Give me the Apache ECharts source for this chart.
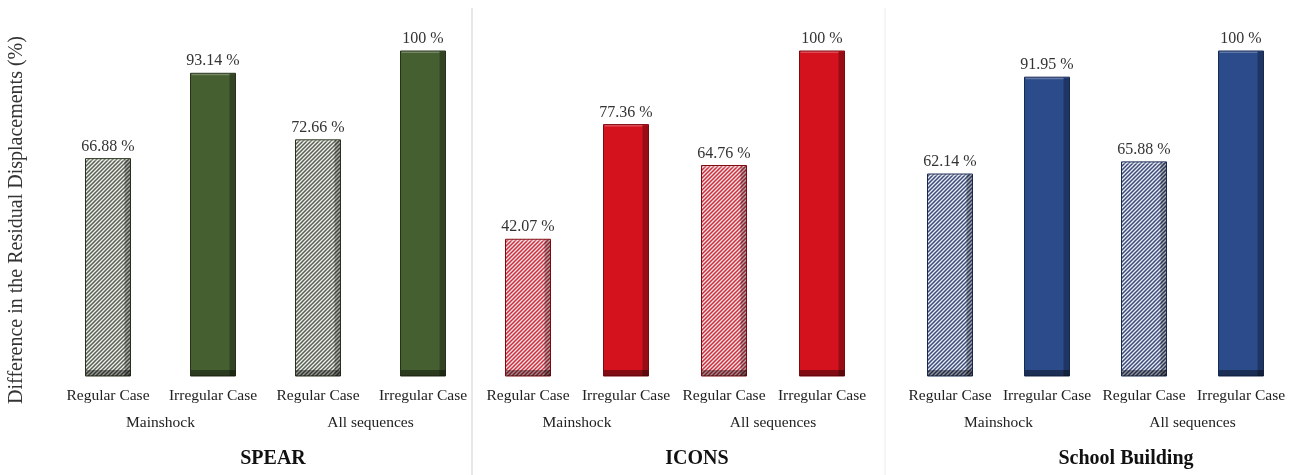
<!DOCTYPE html>
<html>
<head>
<meta charset="utf-8">
<script src="https://cdn.jsdelivr.net/npm/echarts@6/dist/echarts.min.js"></script>
<style>
  html, body { margin: 0; padding: 0; background: #ffffff; }
  #chart { width: 1298px; height: 475px; }
</style>
</head>
<body>
<div id="chart"></div>
<script>
// Category and group labels shared by every panel
const caseLabels = ['Regular Case', 'Irregular Case', 'Regular Case', 'Irregular Case'];
const groupLabels = ['Mainshock', 'All sequences'];
const buildings = ['SPEAR', 'ICONS', 'School Building'];
const yTitle = 'Difference in the Residual Displacements (%)';

// Difference in residual displacements (%) per building
const spearValues = [66.88, 93.14, 72.66, 100];
const iconsValues = [42.07, 77.36, 64.76, 100];
const schoolValues = [62.14, 91.95, 65.88, 100];

const FONT = "'Liberation Serif', 'Times New Roman', serif";

// Diagonal hatch used for the regular-case bars
function hatch(bg, line) {
  const p = 4;
  const c = document.createElement('canvas');
  c.width = p; c.height = p;
  const g = c.getContext('2d');
  g.fillStyle = bg;
  g.fillRect(0, 0, p, p);
  g.strokeStyle = line;
  g.lineWidth = 1.5;
  g.beginPath();
  g.moveTo(-1, p + 1); g.lineTo(p + 1, -1);
  g.moveTo(-1, 1); g.lineTo(1, -1);
  g.moveTo(p - 1, p + 1); g.lineTo(p + 1, p - 1);
  g.stroke();
  return { image: c, repeat: 'repeat' };
}

const panels = [
  { name: buildings[0], values: spearValues, left: 55.5, width: 420, titleX: 268,
    solid: '#465f31', edge: '#26331a', pattern: hatch('#eef1ea', '#5a5f55') },
  { name: buildings[1], values: iconsValues, left: 479, width: 392, titleX: 692,
    solid: '#d3121e', edge: '#7e0a10', pattern: hatch('#fbe0e4', '#c8303f') },
  { name: buildings[2], values: schoolValues, left: 901.5, width: 388, titleX: 1121,
    solid: '#2b4b8b', edge: '#172a52', pattern: hatch('#e8ecf4', '#3d4b78') }
];

// 3D-looking bar: front face, shaded right side, dark base slab and value label
function makeRender(p) {
  return function (params, api) {
    const idx = api.value(0);
    const v = api.value(1);
    const top = api.coord([idx, v]);
    const base = api.coord([idx, 0]);
    const bw = 45;
    const x = top[0] - bw / 2;
    const y = top[1];
    const h = base[1] - top[1];
    const irregular = idx % 2 === 1;
    return {
      type: 'group',
      children: [
        { type: 'rect', shape: { x: x, y: y, width: bw, height: h },
          style: { fill: irregular ? p.solid : p.pattern, stroke: p.edge, lineWidth: 1 } },
        { type: 'rect', shape: { x: x + bw - 6, y: y + 1, width: 5.5, height: h - 1 },
          style: { fill: 'rgba(0,0,0,0.28)' } },
        { type: 'rect', shape: { x: x + 1, y: y + 0.5, width: bw - 7, height: 1.5 },
          style: { fill: 'rgba(255,255,255,0.25)' } },
        { type: 'rect', shape: { x: x + 0.5, y: base[1] - 6, width: bw - 0.5, height: 6 },
          style: { fill: 'rgba(0,0,0,0.38)' } },
        { type: 'text',
          style: { text: v + ' %', x: top[0], y: y - 4, align: 'center', verticalAlign: 'bottom',
                   fontFamily: FONT, fontSize: 16, fill: '#333333' } }
      ]
    };
  };
}

const grids = [], xAxes = [], yAxes = [], series = [], titles = [];
panels.forEach(function (p, i) {
  grids.push({ left: p.left, width: p.width, top: 51, bottom: 475 - 376 });
  xAxes.push({
    type: 'category', gridIndex: i, data: caseLabels, position: 'bottom',
    axisLine: { show: false }, axisTick: { show: false },
    axisLabel: { margin: 12, fontFamily: FONT, fontSize: 15.5, color: '#222222', interval: 0 }
  });
  xAxes.push({
    type: 'category', gridIndex: i, data: groupLabels, position: 'bottom', offset: 27,
    axisLine: { show: false }, axisTick: { show: false },
    axisLabel: { margin: 12, fontFamily: FONT, fontSize: 15.5, color: '#222222', interval: 0 }
  });
  yAxes.push({
    type: 'value', gridIndex: i, min: 0, max: 100, show: false
  });
  series.push({
    type: 'custom', xAxisIndex: i * 2, yAxisIndex: i,
    data: p.values.map(function (v, k) { return [k, v]; }),
    renderItem: makeRender(p)
  });
  titles.push({
    text: p.name, left: p.titleX, top: 444, textAlign: 'center',
    textStyle: { fontFamily: FONT, fontSize: 20, fontWeight: 'bold', color: '#111111' }
  });
});

const chart = echarts.init(document.getElementById('chart'), null, { renderer: 'canvas' });
chart.setOption({
  animation: false,
  backgroundColor: '#ffffff',
  title: titles,
  grid: grids,
  xAxis: xAxes,
  yAxis: yAxes,
  series: series,
  graphic: [
    { type: 'text', x: 17, y: 220, rotation: Math.PI / 2,
      style: { text: yTitle, align: 'center', verticalAlign: 'middle',
               fontFamily: FONT, fontSize: 20, fill: '#333333' } },
    { type: 'line', shape: { x1: 472, y1: 8, x2: 472, y2: 475 },
      style: { stroke: '#d9d9d9', lineWidth: 1.2 } },
    { type: 'line', shape: { x1: 885, y1: 8, x2: 885, y2: 475 },
      style: { stroke: '#efefef', lineWidth: 1.2 } }
  ]
});
</script>
</body>
</html>
